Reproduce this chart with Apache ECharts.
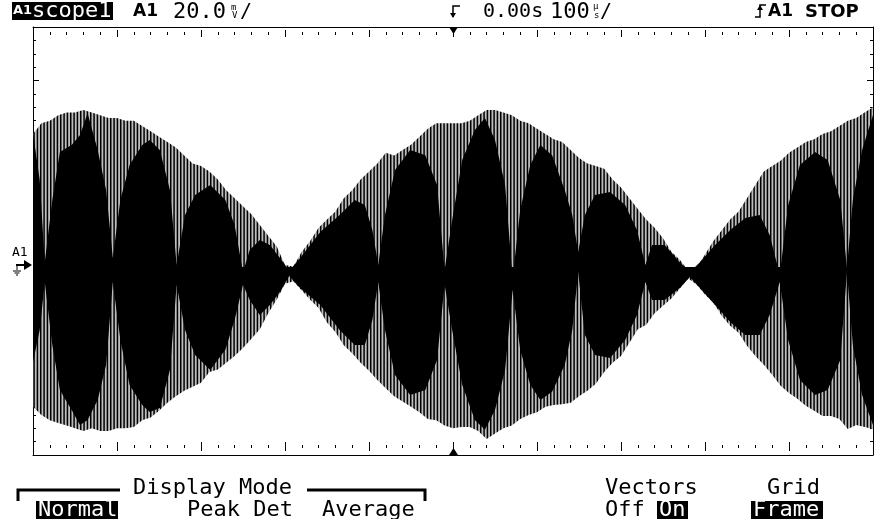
<!DOCTYPE html>
<html>
<head>
<meta charset="utf-8">
<title>scope1</title>
<script src="https://cdn.jsdelivr.net/npm/echarts@6.0.0/dist/echarts.min.js"></script>
<style>
  html, body { margin: 0; padding: 0; background: #fff; }
  #scope { width: 875px; height: 519px; }
</style>
</head>
<body>
<div id="scope"></div>
<script>
// envelope readings, mV, one every 10 us from -500 us to +500 us
var outerStart = -500, outerStep = 10;
var outerTop = [
  50, 54, 55, 57, 58, 58, 59, 58, 57, 56,
  56, 55, 55, 53, 51, 49, 47, 45, 42, 39,
  38, 36, 33, 29, 26, 23, 20, 16, 12, 8,
  1, 0.5, 6, 10, 15, 18, 21, 26, 29, 33,
  36, 39, 43, 42, 44, 46, 49, 52, 54, 54,
  54, 54, 55, 57, 59, 59, 58, 57, 55, 54,
  52, 50, 48, 47, 44, 41, 39, 38, 37, 33,
  30, 26, 22, 18, 15, 11, 6, 3, -1, 0,
  5, 10, 14, 18, 21, 26, 31, 36, 38, 40,
  43, 45, 47, 48, 50, 51, 53, 55, 56, 58,
  60
];
var outerBot = [
  -52, -55, -57, -58, -59, -60, -61, -60, -61, -61,
  -60, -60, -59.5, -57, -56, -53.5, -50.5, -48, -46, -44.5,
  -43, -39, -38, -35.5, -33, -30, -26.5, -23, -17, -12,
  -6, -5, -8.5, -12, -15, -20.5, -24, -29, -32, -35.5,
  -38.5, -42, -45, -48, -50, -52, -54, -56.5, -57, -59,
  -60, -59.5, -59.5, -61, -64, -62, -60, -59, -56.5, -55,
  -54, -52, -51.3, -51, -50.5, -48, -46, -43.4, -39, -35.5,
  -33, -28, -23, -21.3, -17, -14.2, -11.5, -7.8, -4, -6.3,
  -10, -13, -18, -21.7, -24.3, -29.2, -33, -36.3, -40, -44.1,
  -46.8, -49, -51.6, -53.5, -55.4, -55.4, -56.5, -60.3, -58.8, -59.5,
  -60.3
];

// solid (overlapping) part of the trace, read at lobe peaks and pinch points (us, mV)
var innerTime = [
  -500, -492, -486, -477, -468, -454, -444, -435, -423, -413,
  -405, -396, -385, -370, -361, -349, -337, -329, -319, -307,
  -289, -271, -260, -250, -242, -230, -218, -206, -195, -182,
  -158, -135, -117, -105, -96, -89, -81, -69, -51, -33,
  -19, -10, -1, 11, 26, 38, 50, 62, 71, 80,
  92, 104, 118, 133, 142, 149, 157, 169, 187, 205,
  219, 229, 237, 252, 270, 282, 294, 312, 330, 348,
  365, 377, 389, 399, 413, 431, 446, 461, 469, 476,
  487, 500
];
var innerTop = [
  50.4, 32.8, 2.1, 25.3, 43.3, 45.9, 49.6, 57.8, 44.0, 29.1,
  3.6, 25.3, 38.4, 45.9, 47.8, 44.0, 29.1, 1.0, 19.7, 27.2,
  30.9, 25.3, 16.0, -1.6, 6.6, 10.4, 8.5, 3.6, -1.2, 3.6,
  13.4, 19.7, 25.3, 23.5, 14.1, 1.0, 19.7, 36.5, 44.0, 42.1,
  30.9, -0.8, 17.8, 40.3, 51.5, 56.0, 47.8, 30.9, -3.8, 21.6,
  38.4, 45.9, 42.1, 29.1, 19.7, 5.9, 19.7, 27.2, 28.3, 23.5,
  14.1, 1.0, 8.5, 8.5, 2.1, -1.6, 2.1, 8.5, 14.1, 18.6,
  19.7, 12.2, -2.7, 23.5, 38.4, 43.3, 40.3, 25.3, -0.1, 25.3,
  44.0, 57.1
];
var innerBot = [
  -35.2, -23.3, -5.3, -28.9, -45.7, -53.2, -58.8, -56.9, -49.4, -36.4,
  -5.3, -27.0, -43.8, -51.3, -53.9, -52.4, -38.2, -6.4, -23.3, -32.6,
  -38.2, -30.7, -19.5, -6.4, -12.1, -17.7, -13.9, -9.1, -3.1, -7.6,
  -13.9, -23.3, -28.9, -28.9, -19.5, -5.3, -23.3, -40.1, -47.6, -45.7,
  -34.5, -6.4, -23.3, -43.8, -56.9, -60.6, -53.2, -38.2, -8.3, -30.7,
  -43.8, -49.4, -46.4, -36.4, -23.3, -1.6, -25.1, -32.6, -33.7, -27.0,
  -17.7, -5.3, -12.1, -12.1, -7.6, -3.5, -7.6, -13.9, -20.3, -25.1,
  -25.1, -17.7, -5.3, -27.0, -42.0, -47.6, -45.7, -34.5, -1.6, -28.9,
  -47.6, -58.8
];

var outerTime = outerTop.map(function (v, i) { return outerStart + i * outerStep; });
function pairs(ts, vs) {
  return vs.map(function (v, i) { return [ts[i], v]; });
}

// vertical hatching for the sparse (striped) part of the trace
var stripe = document.createElement('canvas');
stripe.width = 10;
stripe.height = 4;
var sc = stripe.getContext('2d');
sc.fillStyle = '#bdbdbd';
sc.fillRect(0, 0, 10, 4);
sc.fillStyle = '#000';
[0, 3.33, 6.67].forEach(function (x) { sc.fillRect(x, 0, 1.5, 4); });
var hatch = { image: stripe, repeat: 'repeat' };

var MONO = '"DejaVu Sans Mono"';
var SANS = '"DejaVu Sans"';

// origin is pushed a hair past zero so upper and lower halves overlap (no seam)
function band(data, fill, origin) {
  return {
    type: 'line', xAxisIndex: 0, yAxisIndex: 0, data: data,
    symbol: 'none', silent: true, animation: false,
    lineStyle: { width: 0, opacity: 0 },
    areaStyle: { color: fill, opacity: 1, origin: origin }
  };
}

function tAxis(pos, opts) {
  var a = {
    type: 'value', min: -500, max: 500, interval: 100, position: pos,
    axisLine: { show: false, onZero: false }, axisTick: { show: false },
    axisLabel: { show: false }, splitLine: { show: false }
  };
  for (var k in opts) a[k] = opts[k];
  return a;
}
function frameLine() {
  return { show: true, onZero: false, lineStyle: { color: '#000', width: 1 } };
}
function divAxis(pos) {
  return {
    type: 'value', min: 0, max: 8, interval: 1, position: pos,
    axisLine: frameLine(),
    axisTick: { show: true, inside: true, length: 6, lineStyle: { color: '#000', width: 1 } },
    minorTick: { show: true, splitNumber: 4, length: 3, lineStyle: { color: '#000', width: 1 } },
    axisLabel: { show: false }, splitLine: { show: false }
  };
}
function tick(len) {
  return { show: true, inside: true, length: len, lineStyle: { color: '#000', width: 1 } };
}

function txt(x, y, s, font, fill) {
  return {
    type: 'text', x: x, y: y, silent: true,
    style: {
      text: s, font: font, fill: fill || '#000',
      align: 'left', textAlign: 'left',
      verticalAlign: 'middle', textVerticalAlign: 'middle'
    }
  };
}
function box(x, y, w, h) {
  return { type: 'rect', shape: { x: x, y: y, width: w, height: h }, style: { fill: '#000' }, silent: true };
}
function poly(points, width) {
  return { type: 'polyline', shape: { points: points }, style: { stroke: '#000', lineWidth: width || 1, fill: null }, silent: true };
}
function tri(points) {
  return { type: 'polygon', shape: { points: points }, style: { fill: '#000' }, silent: true };
}

var chart = echarts.init(document.getElementById('scope'), null, { renderer: 'canvas' });

chart.setOption({
  animation: false,
  backgroundColor: '#fff',
  grid: { left: 33, top: 27, width: 840, height: 428, show: false, outerBoundsMode: 'none' },
  xAxis: [
    tAxis('bottom', { axisLine: frameLine() }),
    tAxis('top', { axisLine: frameLine() }),
    tAxis('top', { offset: -3, axisTick: tick(7) }),
    tAxis('top', { offset: -5, interval: 20, axisTick: tick(3) }),
    tAxis('bottom', { offset: -4, axisTick: tick(9) }),
    tAxis('bottom', { offset: -7, interval: 20, axisTick: tick(3) })
  ],
  yAxis: [
    { type: 'value', min: -70, max: 90, show: false, axisLine: { onZero: false } },
    divAxis('left'),
    divAxis('right')
  ],
  series: [
    band(pairs(outerTime, outerTop), hatch, -0.3),
    band(pairs(outerTime, outerBot), hatch, 0.3),
    band(pairs(innerTime, innerTop), '#000', -0.3),
    band(pairs(innerTime, innerBot), '#000', 0.3)
  ],
  graphic: [
    // header
    box(12, 2, 101, 18),
    txt(13, 11, 'A1', 'bold 13px ' + SANS, '#fff'),
    txt(32, 11, 'scope1', '22px ' + MONO, '#fff'),
    txt(133, 12, 'A1', 'bold 17px ' + SANS),
    txt(173, 12, '20.0', '22px ' + MONO),
    txt(231, 8, 'm', '9px ' + MONO),
    txt(232, 16, 'V', '9px ' + MONO),
    txt(240, 12, '/', '20px ' + MONO),
    poly([[460, 6], [453, 6], [453, 17]], 1.5),
    tri([[450, 13], [456, 13], [453, 18]]),
    txt(483, 12, '0.00s', '20px ' + MONO),
    txt(550, 12, '100', '22px ' + MONO),
    txt(593, 7, 'µ', '9px ' + MONO),
    txt(594, 16, 's', '9px ' + MONO),
    txt(600, 12, '/', '20px ' + MONO),
    poly([[755, 17], [760, 17], [760, 5], [766, 5]], 1.5),
    tri([[757, 10], [763, 10], [760, 5]]),
    txt(768, 12, 'A1', 'bold 17px ' + SANS),
    txt(805, 12, 'STOP', 'bold 18px ' + SANS),

    // trigger position markers
    tri([[449, 27], [458, 27], [453.5, 34]]),
    tri([[449, 455], [458, 455], [453.5, 448]]),

    // channel ground marker
    txt(12, 253, 'A1', '13px ' + MONO),
    poly([[16, 265], [26, 265]], 2),
    tri([[24, 260], [32, 265], [24, 270]]),
    poly([[17, 265], [17, 270]], 1),
    poly([[13, 271], [21, 271]], 1),
    poly([[14.5, 273], [19.5, 273]], 1),
    poly([[16, 275], [18, 275]], 1),

    // softkey menu
    poly([[18, 501], [18, 490], [120, 490]], 3),
    poly([[307, 490], [425, 490], [425, 501]], 3),
    txt(133, 488, 'Display Mode', '22px ' + MONO),
    box(36, 501, 82, 18),
    txt(38, 510, 'Normal', '22px ' + MONO, '#fff'),
    txt(187, 510, 'Peak Det', '22px ' + MONO),
    txt(322, 510, 'Average', '22px ' + MONO),
    txt(605, 488, 'Vectors', '22px ' + MONO),
    txt(767, 488, 'Grid', '22px ' + MONO),
    txt(605, 510, 'Off', '22px ' + MONO),
    box(657, 501, 31, 18),
    txt(659, 510, 'On', '22px ' + MONO, '#fff'),
    box(751, 501, 72, 18),
    txt(753, 510, 'Frame', '22px ' + MONO, '#fff')
  ]
});
</script>
</body>
</html>
